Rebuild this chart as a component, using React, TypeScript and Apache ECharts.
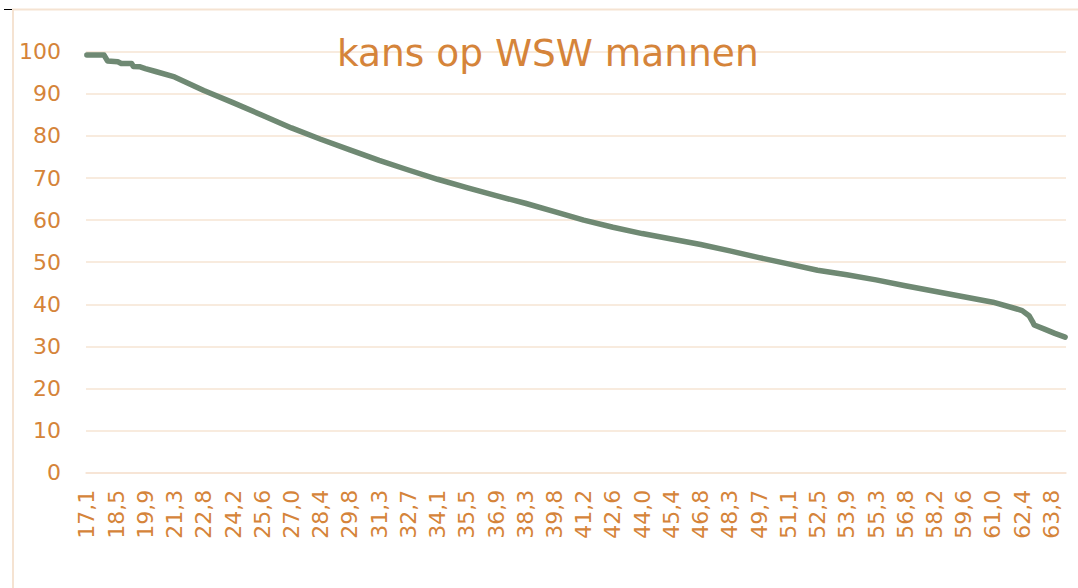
import React, { useEffect, useRef } from "react";
import * as echarts from "echarts";

// Ages in months from 17 years + 1 month, shown with a decimal comma
const FIRST_MONTH = 17 * 12 + 1;
const MONTH_COUNT = 570;
const ageCategories: string[] = Array.from({ length: MONTH_COUNT }, (_, i) =>
  ((FIRST_MONTH + i) / 12).toFixed(1).replace(".", ",")
);

const sampleIndex: number[] = [
  0, 10, 12, 18, 20, 26, 27, 31, 34, 40, 51, 68, 85, 102, 119, 136, 153, 170,
  187, 204, 221, 238, 255, 272, 289, 306, 323, 340, 357, 374, 391, 408, 425,
  442, 459, 476, 493, 510, 527, 540, 544, 548, 550, 551, 557, 563, 569,
];
const sampleValue: number[] = [
  99.2, 99.2, 97.8, 97.6, 97.2, 97.2, 96.5, 96.4, 96.0, 95.3, 94.0, 90.8, 87.9,
  84.9, 81.9, 79.2, 76.7, 74.2, 71.9, 69.7, 67.7, 65.8, 64.0, 62.0, 60.0, 58.3,
  56.8, 55.5, 54.2, 52.7, 51.1, 49.6, 48.1, 47.0, 45.8, 44.4, 43.1, 41.8, 40.5,
  39.0, 38.5, 37.3, 35.9, 35.1, 34.1, 33.1, 32.2,
];

const TITLE = "kans op WSW mannen";
const ORANGE = "#d5843a";
const GRID = "#f6e4d3";
const LINE = "#6f8973";
const FONT = "DejaVu Sans, Verdana, sans-serif";

export default function App() {
  const ref = useRef<HTMLDivElement>(null);
  useEffect(() => {
    if (!ref.current) return;
    const chart = echarts.init(ref.current, undefined, { renderer: "svg" });
    chart.setOption({
      animation: false,
      backgroundColor: "#ffffff",
      title: {
        text: TITLE,
        left: 337,
        top: 34,
        padding: 0,
        textStyle: {
          color: ORANGE,
          fontFamily: FONT,
          fontSize: 37.5,
          fontWeight: "normal",
        },
      },
      graphic: [
        {
          type: "rect",
          shape: { x: 13, y: 9.5, width: 1100, height: 620 },
          style: { fill: "none", stroke: "#f5e3d2", lineWidth: 2 },
          z: -1,
        },
        {
          type: "line",
          shape: { x1: 4, y1: 9.5, x2: 12, y2: 9.5 },
          style: { stroke: "#000000", lineWidth: 1 },
        },
      ],
      grid: { left: 86, right: 12, top: 51.7, bottom: 115.3 },
      xAxis: {
        type: "category",
        data: ageCategories,
        boundaryGap: true,
        axisLine: { show: true, lineStyle: { color: GRID, width: 1.5 } },
        axisTick: { show: false },
        axisLabel: {
          interval: 16,
          rotate: 90,
          margin: 17,
          color: ORANGE,
          fontFamily: FONT,
          fontSize: 22,
        },
      },
      yAxis: {
        type: "value",
        min: 0,
        max: 100,
        interval: 10,
        axisLine: { show: false },
        axisTick: { show: false },
        splitLine: { lineStyle: { color: GRID, width: 1.5 } },
        axisLabel: {
          margin: 25,
          color: ORANGE,
          fontFamily: FONT,
          fontSize: 22,
        },
      },
      series: [
        {
          type: "line",
          data: sampleIndex.map((idx, k) => [idx, sampleValue[k]]),
          showSymbol: false,
          symbol: "none",
          lineStyle: { color: LINE, width: 5.5, cap: "round", join: "round" },
        },
      ],
    });
    return () => chart.dispose();
  }, []);
  return (
    <div
      ref={ref}
      style={{ position: "fixed", left: 0, top: 0, width: 1078, height: 588 }}
    />
  );
}
